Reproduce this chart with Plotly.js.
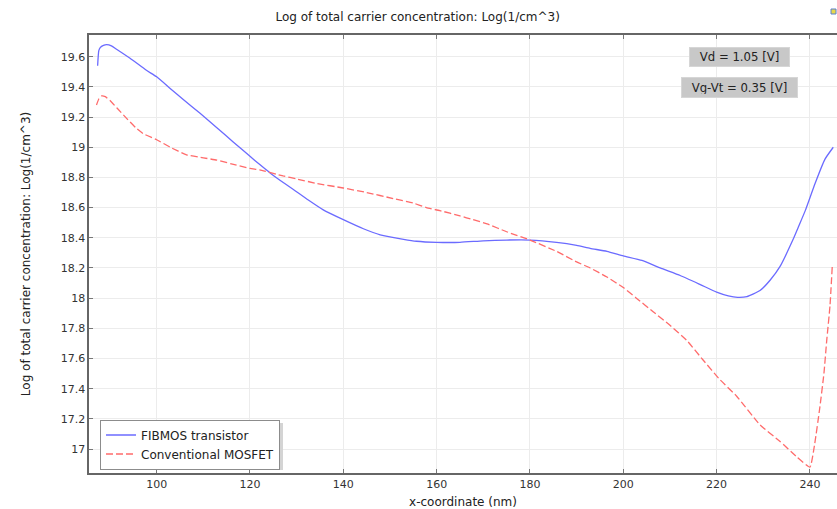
<!DOCTYPE html>
<html>
<head>
<meta charset="utf-8">
<script src="https://cdn.plot.ly/plotly-3.0.1.min.js"></script>
<style>
  html, body { margin: 0; padding: 0; background: #ffffff; }
  #chart { width: 837px; height: 509px; }
</style>
</head>
<body>
<div id="chart"></div>
<script>
// FIBMOS transistor: log of total carrier concentration along the channel
const fibmosX = [87.35, 87.6, 87.9, 88.6, 89.3, 90.3, 91.4, 94.3, 97.8, 100, 102.9, 105.7, 109.3, 112.9, 116.4, 120,
  122.1, 124.3, 126.5, 129.3, 132.5, 135.7, 140, 144.3, 147.9, 152.9, 155.7, 160, 165, 170, 175, 180,
  185.7, 190, 192.9, 196.5, 200, 204, 207.9, 212.2, 216.5, 220, 222.5, 224.5, 226.5, 229.3, 231.5,
  233.6, 236.4, 237.5, 239, 241.1, 243.2, 245];
const fibmosY = [19.54, 19.64, 19.66, 19.675, 19.68, 19.672, 19.65, 19.59, 19.51, 19.467, 19.39, 19.317, 19.225, 19.13, 19.035, 18.94,
  18.885, 18.83, 18.78, 18.72, 18.65, 18.585, 18.52, 18.46, 18.42, 18.39, 18.377, 18.37, 18.37, 18.38, 18.385, 18.385,
  18.37, 18.35, 18.33, 18.31, 18.28, 18.25, 18.20, 18.15, 18.09, 18.04, 18.015, 18.005, 18.01, 18.05, 18.12,
  18.21, 18.39, 18.47, 18.58, 18.76, 18.92, 19.0];

// Conventional MOSFET: same quantity, same cut line
const mosfetX = [87.1, 87.6, 88.2, 89.0, 90, 91.5, 93.6, 95.5, 97.1, 100, 102.9, 106.4, 110, 112.9, 116, 120,
  122.1, 127.1, 130, 134.3, 140, 145, 150.7, 155, 157.8, 160.7, 165, 167.8, 171, 175, 180,
  185.7, 190, 192.9, 196.5, 200, 202.8, 206.4, 210, 213.6, 217.1, 220.7, 224.3, 229.3, 233.6, 237.1,
  240, 241, 242.1, 243.0, 243.6, 244.3, 244.8];
const mosfetY = [19.28, 19.32, 19.34, 19.335, 19.31, 19.26, 19.19, 19.13, 19.09, 19.05, 19.0, 18.95, 18.93, 18.915, 18.89, 18.86,
  18.85, 18.81, 18.79, 18.76, 18.73, 18.70, 18.66, 18.63, 18.60, 18.58, 18.545, 18.52, 18.49, 18.44, 18.385,
  18.31, 18.24, 18.20, 18.14, 18.07, 18.0, 17.91, 17.82, 17.72, 17.59, 17.46, 17.35, 17.16, 17.05, 16.95,
  16.88, 17.03, 17.27, 17.50, 17.72, 17.95, 18.22];

const seriesNames = ["FIBMOS transistor", "Conventional MOSFET"];
const xTicks = [100, 120, 140, 160, 180, 200, 220, 240];
const yTicks = [17, 17.2, 17.4, 17.6, 17.8, 18, 18.2, 18.4, 18.6, 18.8, 19, 19.2, 19.4, 19.6];
const biasLabels = ["Vd = 1.05 [V]", "Vg-Vt = 0.35 [V]"];

const FONT = "DejaVu Sans, Verdana, sans-serif";
const W = 837, H = 509;
const M = { l: 89, r: 0, t: 35, b: 36 };
const PW = W - M.l - M.r, PH = H - M.t - M.b;
// pixel -> paper helpers for decorations
const px = v => (v - M.l) / PW;
const py = v => (H - M.b - v) / PH;

const traces = [
  {
    x: fibmosX, y: fibmosY, name: seriesNames[0], type: "scatter", mode: "lines",
    line: { color: "#6b6bff", width: 1.3, shape: "spline", smoothing: 0.5 }
  },
  {
    x: mosfetX, y: mosfetY, name: seriesNames[1], type: "scatter", mode: "lines",
    line: { color: "#ff6b6b", width: 1.3, dash: "7px,3px", shape: "spline", smoothing: 0.4 }
  }
];

const layout = {
  width: W, height: H,
  margin: M,
  paper_bgcolor: "#ffffff",
  plot_bgcolor: "#ffffff",
  font: { family: FONT, size: 11, color: "#333333" },
  title: {
    text: "Log of total carrier concentration: Log(1/cm^3)",
    font: { family: FONT, size: 12, color: "#222222" },
    xref: "container", x: 0.499, xanchor: "center",
    yref: "container", y: 1 - 17 / H, yanchor: "middle"
  },
  xaxis: {
    range: [85.5, 245.8],
    tickvals: xTicks,
    ticks: "inside", ticklen: 4, tickcolor: "#777777",
    showline: true, linecolor: "#666666", linewidth: 1.6,
    mirror: "ticks",
    showgrid: true, gridcolor: "#ececec", gridwidth: 1,
    zeroline: false,
    tickfont: { family: FONT, size: 11, color: "#333333" },
    title: { text: "x-coordinate (nm)", font: { family: FONT, size: 12, color: "#222222" }, standoff: 8 }
  },
  yaxis: {
    range: [16.841, 19.744],
    tickvals: yTicks,
    ticks: "inside", ticklen: 4, tickcolor: "#777777",
    showline: true, linecolor: "#666666", linewidth: 1.6,
    showgrid: true, gridcolor: "#ececec", gridwidth: 1,
    zeroline: false,
    tickfont: { family: FONT, size: 11, color: "#333333" },
    title: { text: "Log of total carrier concentration: Log(1/cm^3)", font: { family: FONT, size: 12, color: "#222222" }, standoff: 27 }
  },
  showlegend: true,
  legend: {
    x: px(100), y: py(444.5), xanchor: "left", yanchor: "middle",
    bgcolor: "#ffffff", bordercolor: "#8c8c8c", borderwidth: 1,
    font: { family: FONT, size: 12, color: "#222222" },
    tracegroupgap: 0, itemwidth: 30
  },
  shapes: [
    // legend drop shadow
    { type: "rect", xref: "paper", yref: "paper", layer: "above",
      x0: px(103), x1: px(283), y0: py(470), y1: py(423),
      fillcolor: "#d4d4d4", line: { width: 0 } },
    // small toolbar glyph, top right
    { type: "rect", xref: "paper", yref: "paper", layer: "above",
      x0: px(831), x1: px(836), y0: py(14), y1: py(9),
      fillcolor: "#e8d84a", line: { color: "#5a7fd0", width: 1 } }
  ],
  annotations: [
    { xref: "paper", yref: "paper", x: px(739.5), y: py(57), xanchor: "center", yanchor: "middle",
      text: biasLabels[0], showarrow: false, bgcolor: "#c8c8c8", bordercolor: "#d6d6d6",
      borderwidth: 1, borderpad: 3, width: 93, height: 12,
      font: { family: FONT, size: 11.7, color: "#222222" } },
    { xref: "paper", yref: "paper", x: px(739.5), y: py(87.5), xanchor: "center", yanchor: "middle",
      text: biasLabels[1], showarrow: false, bgcolor: "#c8c8c8", bordercolor: "#d6d6d6",
      borderwidth: 1, borderpad: 3, width: 109, height: 13,
      font: { family: FONT, size: 11.7, color: "#222222" } }
  ]
};

Plotly.newPlot("chart", traces, layout, { displayModeBar: false, staticPlot: true });
</script>
</body>
</html>
